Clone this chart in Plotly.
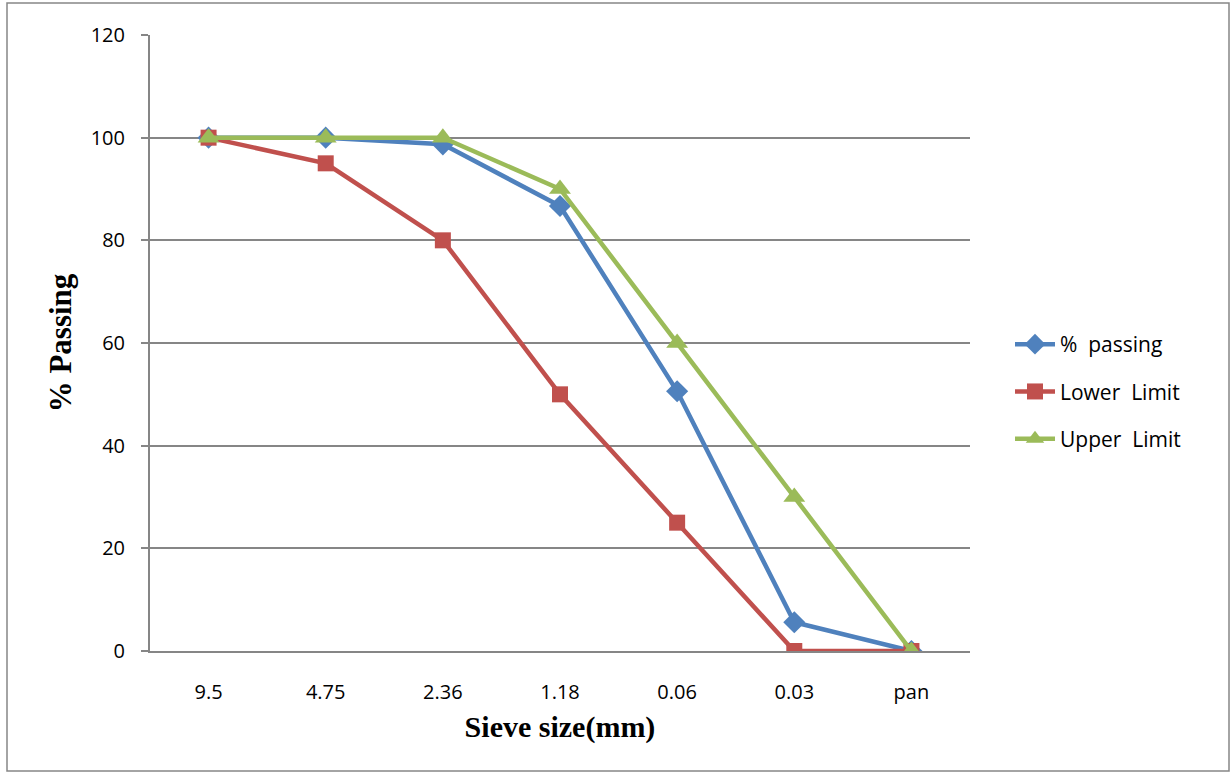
import plotly.graph_objects as go

sieve_sizes = ["9.5", "4.75", "2.36", "1.18", "0.06", "0.03", "pan"]
pct_passing = [100, 100, 98.7, 86.7, 50.6, 5.6, 0]
lower_limit = [100, 95, 80, 50, 25, 0, 0]
upper_limit = [100, 100, 100, 90, 60, 30, 0]
y_ticks = [0, 20, 40, 60, 80, 100, 120]

W, H = 1231, 774
L, R, T, B = 150, 261, 35, 123
pw, ph = W - L - R, H - T - B

fig = go.Figure()
fig.add_trace(go.Scatter(x=sieve_sizes, y=pct_passing, name="%  passing", mode="lines+markers",
                         legendgroup="a",
                         line=dict(color="#4F81BD", width=4.5),
                         marker=dict(symbol="diamond", size=17, color="#4F81BD")))
fig.add_trace(go.Scatter(x=sieve_sizes, y=lower_limit, name="Lower  Limit", mode="lines+markers",
                         legendgroup="b",
                         line=dict(color="#C0504D", width=4.5),
                         marker=dict(symbol="square", size=16, color="#C0504D")))
fig.add_trace(go.Scatter(x=sieve_sizes, y=upper_limit, name="Upper  Limit", mode="lines+markers",
                         legendgroup="c",
                         line=dict(color="#9BBB59", width=4.5),
                         marker=dict(symbol="triangle-up", size=19, color="#9BBB59")))

fig.update_layout(
    width=W, height=H,
    margin=dict(l=L, r=R, t=T, b=B),
    paper_bgcolor="white", plot_bgcolor="white",
    font=dict(family="Open Sans, Liberation Sans, sans-serif", color="#000000"),
    legend=dict(x=(1010 - L) / pw, y=(651 - 324) / ph, xanchor="left", yanchor="top",
                font=dict(size=21, family="Open Sans, sans-serif"), tracegroupgap=17,
                itemwidth=40, bgcolor="rgba(0,0,0,0)"),
    showlegend=True,
)
fig.update_xaxes(
    type="category", range=[-0.5, 6.5],
    showline=True, linecolor="#868686", linewidth=2,
    showgrid=False, ticks="", tickfont=dict(size=20),
    ticklabelstandoff=22,
    title=dict(text="<b>Sieve size(mm)</b>", font=dict(family="Liberation Serif, serif", size=30), standoff=12),
)
fig.update_yaxes(
    range=[0, 120], tickvals=y_ticks,
    showline=True, linecolor="#868686", linewidth=2,
    showgrid=True, gridcolor="#868686", gridwidth=1.5,
    ticks="outside", ticklen=7, tickcolor="#868686", tickwidth=1.5,
    tickfont=dict(size=20), ticklabelstandoff=12,
    zeroline=False,
    title=dict(text="<b>% Passing</b>", font=dict(family="Liberation Serif, serif", size=31), standoff=10),
)

fig.add_shape(type="rect", xref="paper", yref="paper",
              x0=(7 - L) / pw, x1=(1229 - L) / pw, y0=(651 - 771) / ph, y1=(651 - 3) / ph,
              line=dict(color="#868686", width=1.5), fillcolor="rgba(0,0,0,0)", layer="below")

fig.write_html("out.html")
